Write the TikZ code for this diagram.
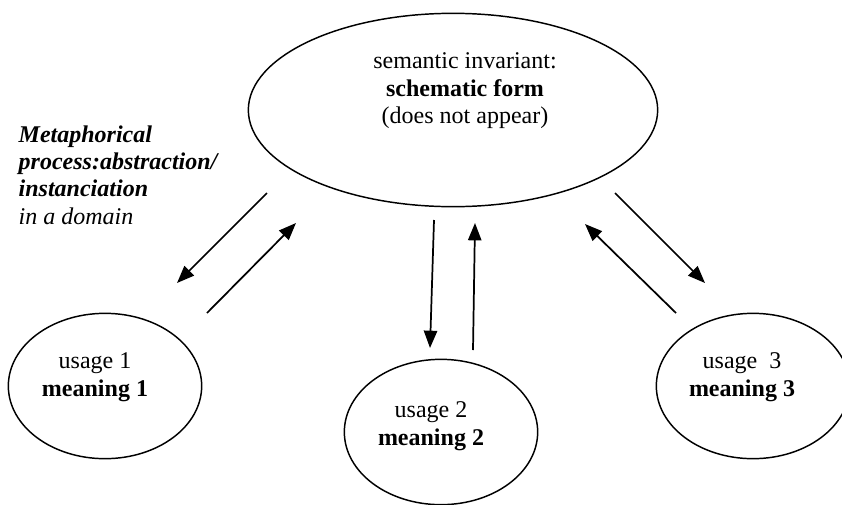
\documentclass[tikz,border=0pt]{standalone}
\usepackage{fontspec}
\setmainfont{Liberation Serif}
\usetikzlibrary{shapes, arrows.meta, positioning, calc}

\begin{document}
\begin{tikzpicture}[
    x=0.75pt, y=-0.75pt,
    >={Triangle[length=13pt, width=10pt]},
    big/.style={ellipse, draw, line width=1.1pt, minimum width=307pt, minimum height=145pt, inner sep=0pt},
    usage/.style={ellipse, draw, line width=1.1pt, minimum width=145pt, minimum height=109pt, inner sep=0pt},
    txt/.style={draw=none, align=center, font=\fontsize{18}{20.6}\selectfont},
    link/.style={->, line width=1.3pt}
]
\useasboundingbox (0,0) rectangle (842,504);

% Invariant
\node (Top) at (453,110) [big] {};
\node (TopText) at (465,91) [txt] {semantic invariant:\\\textbf{schematic form}\\(does not appear)};

% Usages
\node (U1) at (105,386) [usage] {};
\node (U1Text) at (95,377) [txt] {usage 1\\\textbf{meaning 1}};
\node (U2) at (441,432) [usage] {};
\node (U2Text) at (431,426) [txt] {usage 2\\\textbf{meaning 2}};
\node (U3) at (753,386) [usage] {};
\node (U3Text) at (742,377) [txt] {usage\ \ 3\\\textbf{meaning 3}};

% Process label
\node (Process) at (14,175) [txt, align=left, anchor=west] {\textbf{\textit{Metaphorical}}\\\textbf{\textit{process:abstraction/}}\\\textbf{\textit{instanciation}}\\\textit{in a domain}};

% Arrow ends
\coordinate (L1s) at (267,193); \coordinate (L1e) at (177,283);
\coordinate (L2s) at (207,313); \coordinate (L2e) at (296,223);
\coordinate (M1s) at (434,220); \coordinate (M1e) at (430,348);
\coordinate (M2s) at (473,350); \coordinate (M2e) at (475,223);
\coordinate (R1s) at (676,313); \coordinate (R1e) at (585,224);
\coordinate (R2s) at (615,193); \coordinate (R2e) at (705,283);

% Instanciation / abstraction
\draw[link] (L1s) -- (L1e);
\draw[link] (L2s) -- (L2e);
\draw[link] (M1s) -- (M1e);
\draw[link] (M2s) -- (M2e);
\draw[link] (R1s) -- (R1e);
\draw[link] (R2s) -- (R2e);
\end{tikzpicture}
\end{document}
